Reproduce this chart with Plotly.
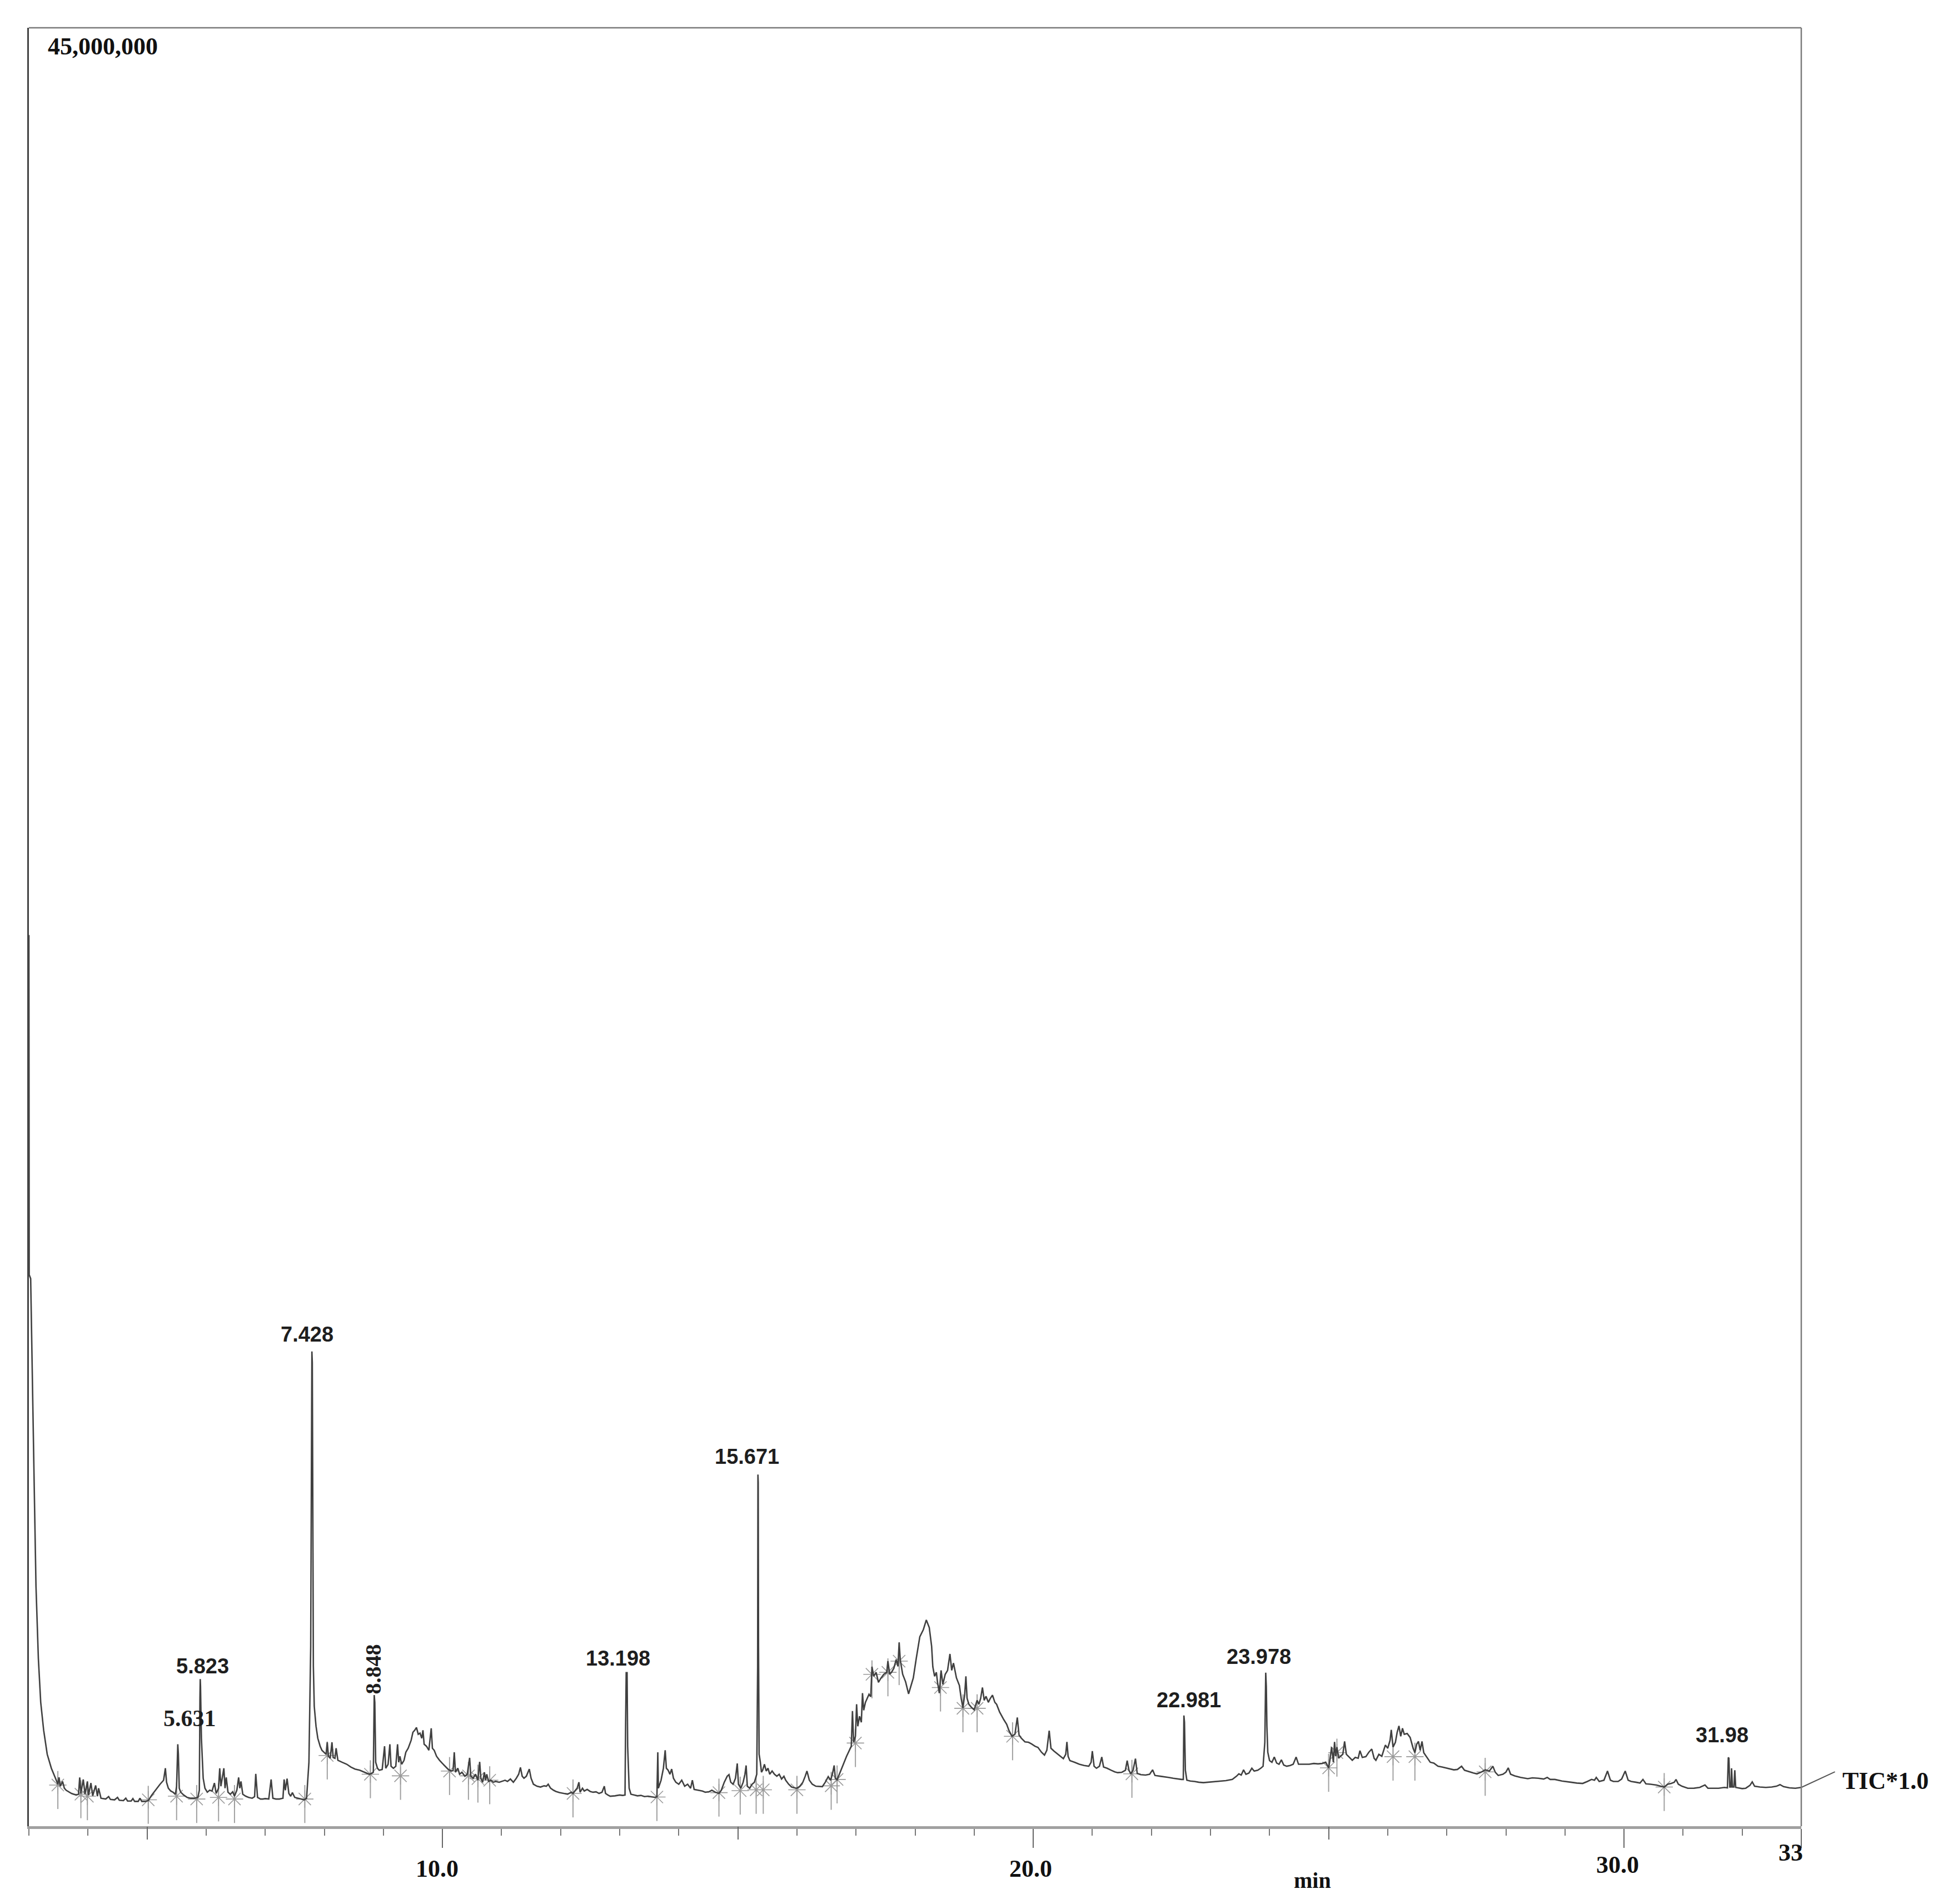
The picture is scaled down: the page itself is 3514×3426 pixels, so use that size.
import plotly.graph_objects as go

# ---------------- DATA (retention time [min], TIC intensity [millions of counts]) ----------------
solvent_front = [
    (3.00, 22.3), (3.005, 13.8), (3.03, 13.7), (3.06, 10.8), (3.09, 8.5), (3.12, 6.0), (3.16, 4.2),
    (3.20, 3.1), (3.25, 2.4), (3.31, 1.8), (3.38, 1.45), (3.45, 1.2), (3.49, 1.05), (3.51, 1.22),
    (3.53, 1.0), (3.57, 1.12), (3.60, 0.95), (3.63, 0.9), (3.68, 0.85), (3.72, 0.82), (3.76, 0.80),
    (3.80, 0.78), (3.84, 0.80), (3.86, 1.22), (3.88, 0.82), (3.92, 1.17), (3.95, 0.80), (3.99, 1.12),
    (4.01, 0.78), (4.05, 1.08), (4.08, 0.76), (4.13, 1.02), (4.16, 0.75), (4.18, 0.95), (4.22, 0.70),
    (4.30, 0.68), (4.35, 0.74), (4.38, 0.67), (4.45, 0.66), (4.50, 0.72), (4.53, 0.65), (4.60, 0.64),
    (4.64, 0.70), (4.67, 0.63), (4.73, 0.63), (4.76, 0.69), (4.79, 0.62), (4.85, 0.62), (4.88, 0.70),
    (4.91, 0.62), (4.97, 0.62), (5.02, 0.64),
]
region_5_6 = [
    (5.08, 0.78), (5.15, 0.92), (5.22, 1.05), (5.28, 1.15), (5.31, 1.45), (5.33, 1.10), (5.36, 0.95),
    (5.40, 0.88), (5.44, 0.85), (5.48, 0.80), (5.50, 1.0), (5.52, 2.05), (5.53, 1.8), (5.545, 0.95),
    (5.57, 0.85), (5.62, 0.78), (5.68, 0.72), (5.74, 0.70), (5.80, 0.70), (5.86, 0.72), (5.885, 0.9),
    (5.895, 3.2), (5.90, 3.68), (5.905, 3.5), (5.92, 2.2), (5.95, 1.2), (5.98, 0.95), (6.02, 0.85),
    (6.06, 0.9),
]
region_6_7 = [
    (6.10, 0.88), (6.14, 1.08), (6.17, 0.82), (6.21, 0.95), (6.23, 1.45), (6.25, 1.0), (6.28, 1.30),
    (6.30, 1.45), (6.32, 0.95), (6.34, 1.22), (6.37, 0.85), (6.41, 0.80), (6.45, 0.86), (6.48, 0.75),
    (6.52, 0.90), (6.55, 1.22), (6.57, 0.95), (6.59, 1.12), (6.62, 0.80), (6.67, 0.75), (6.72, 0.72),
    (6.78, 0.70), (6.82, 0.74), (6.84, 1.31), (6.87, 0.72), (6.92, 0.68), (6.96, 0.68), (7.00, 0.69),
    (7.06, 0.68), (7.10, 1.17), (7.13, 0.70), (7.18, 0.68), (7.24, 0.68), (7.30, 0.70), (7.32, 1.17),
    (7.34, 0.9), (7.37, 1.19), (7.40, 0.82), (7.43, 0.75), (7.46, 0.84), (7.50, 0.72), (7.55, 0.70),
    (7.60, 0.68), (7.66, 0.66),
]
region_7_9 = [
    (7.70, 0.70), (7.74, 1.6), (7.77, 4.5), (7.785, 10.5), (7.79, 11.88), (7.797, 11.6), (7.805, 7.0),
    (7.815, 4.0), (7.83, 3.0), (7.86, 2.5), (7.89, 2.2), (7.93, 2.0), (7.96, 1.9), (8.00, 1.85),
    (8.03, 1.80), (8.05, 2.1), (8.07, 1.75), (8.10, 1.70), (8.13, 2.1), (8.15, 1.72), (8.18, 1.70),
    (8.20, 1.95), (8.23, 1.65), (8.30, 1.60), (8.38, 1.55), (8.45, 1.48), (8.52, 1.43), (8.60, 1.40),
    (8.68, 1.35), (8.76, 1.30), (8.80, 1.32),
]
region_9_10 = [
    (8.83, 1.35), (8.845, 3.28), (8.855, 3.1), (8.87, 1.6), (8.90, 1.45), (8.93, 1.40), (8.98, 1.42),
    (9.02, 2.0), (9.04, 1.45), (9.08, 1.55), (9.11, 2.05), (9.13, 1.50), (9.17, 1.45), (9.21, 1.50),
    (9.24, 2.05), (9.26, 1.60), (9.28, 1.75), (9.31, 1.55), (9.35, 1.65), (9.38, 1.85), (9.42, 1.95),
    (9.47, 2.15), (9.50, 2.35), (9.53, 2.40), (9.56, 2.47), (9.59, 2.30), (9.62, 2.33), (9.65, 2.20),
    (9.67, 2.40), (9.69, 2.05), (9.73, 2.0), (9.77, 1.90), (9.81, 2.45), (9.83, 1.95), (9.86, 1.90),
    (9.90, 1.75), (9.95, 1.65), (10.00, 1.57), (10.05, 1.50), (10.10, 1.42),
]
region_10_13 = [
    (10.15, 1.38), (10.18, 1.40), (10.20, 1.85), (10.22, 1.35), (10.26, 1.45), (10.29, 1.30), (10.33, 1.35),
    (10.38, 1.25), (10.42, 1.30), (10.46, 1.71), (10.48, 1.25), (10.52, 1.20), (10.56, 1.30), (10.60, 1.15),
    (10.63, 1.61), (10.65, 1.20), (10.68, 1.10), (10.71, 1.35), (10.73, 1.15), (10.75, 1.30), (10.78, 1.12),
    (10.82, 1.15), (10.86, 1.10), (10.90, 1.12), (10.96, 1.10), (11.00, 1.12), (11.06, 1.15), (11.10, 1.12),
    (11.15, 1.18), (11.20, 1.10), (11.25, 1.20), (11.29, 1.30), (11.32, 1.47), (11.35, 1.25), (11.38, 1.20),
    (11.42, 1.25), (11.47, 1.43), (11.50, 1.20), (11.54, 1.05), (11.60, 1.00), (11.66, 0.98), (11.72, 1.01),
    (11.76, 1.00), (11.79, 1.05), (11.83, 0.95), (11.88, 0.90), (11.92, 0.87), (11.98, 0.84), (12.05, 0.82),
    (12.12, 0.80), (12.18, 0.85), (12.21, 0.82), (12.25, 0.90), (12.28, 0.95), (12.31, 1.10), (12.33, 0.85),
    (12.37, 0.95), (12.40, 0.88), (12.45, 0.92), (12.50, 0.87), (12.55, 0.85), (12.60, 0.86), (12.65, 0.82),
    (12.70, 0.85), (12.74, 1.00), (12.76, 0.82), (12.80, 0.78), (12.84, 0.75), (12.92, 0.76), (13.00, 0.78),
    (13.05, 0.77),
]
region_13_15 = [
    (13.09, 0.78), (13.10, 2.5), (13.11, 3.84), (13.125, 3.84), (13.135, 2.0), (13.16, 0.95), (13.19, 0.80),
    (13.25, 0.78), (13.30, 0.76), (13.36, 0.77), (13.42, 0.74), (13.48, 0.75), (13.54, 0.73), (13.60, 0.72),
    (13.63, 0.74), (13.645, 1.85), (13.655, 0.95), (13.70, 1.15), (13.74, 1.45), (13.77, 1.90), (13.79, 1.45),
    (13.82, 1.40), (13.85, 1.30), (13.88, 1.43), (13.91, 1.20), (13.95, 1.10), (14.00, 1.05), (14.05, 1.15),
    (14.10, 1.00), (14.15, 1.05), (14.20, 0.95), (14.23, 1.15), (14.26, 0.92), (14.32, 0.90), (14.40, 0.88),
    (14.45, 0.85), (14.51, 0.86), (14.56, 0.90), (14.62, 0.85), (14.68, 0.82), (14.72, 0.90), (14.77, 1.10),
    (14.82, 1.25), (14.85, 1.29), (14.88, 1.10), (14.92, 1.05), (14.96, 1.20), (14.99, 1.57), (15.01, 1.05),
    (15.05, 0.95), (15.09, 1.10), (15.12, 1.30), (15.14, 1.52), (15.16, 1.00), (15.20, 0.95), (15.24, 1.05),
    (15.28, 1.10), (15.32, 1.30),
]
region_15_17 = [
    (15.335, 4.0), (15.34, 8.8), (15.345, 8.6), (15.35, 4.5), (15.36, 1.8), (15.38, 1.61), (15.40, 1.35),
    (15.42, 1.40), (15.45, 1.55), (15.48, 1.38), (15.51, 1.45), (15.54, 1.30), (15.58, 1.38), (15.62, 1.30),
    (15.66, 1.25), (15.70, 1.30), (15.74, 1.18), (15.78, 1.25), (15.81, 1.15), (15.86, 1.05), (15.91, 0.98),
    (15.96, 0.96), (16.00, 0.95), (16.05, 1.00), (16.10, 1.10), (16.14, 1.25), (16.17, 1.38), (16.21, 1.15),
    (16.26, 1.05), (16.32, 1.00), (16.38, 0.99), (16.43, 0.99), (16.48, 1.10), (16.53, 1.24), (16.57, 1.15),
    (16.60, 1.30), (16.63, 1.52), (16.65, 1.20), (16.68, 1.16),
]
hump_17_22 = [
    (16.76, 1.45), (16.84, 1.75), (16.92, 2.0), (16.94, 2.88), (16.96, 2.10), (16.99, 2.25), (17.01, 3.05),
    (17.03, 2.50), (17.06, 2.75), (17.09, 2.60), (17.11, 3.33), (17.13, 2.90), (17.16, 3.10), (17.19, 3.20),
    (17.22, 3.30), (17.25, 3.24), (17.27, 3.99), (17.30, 3.75), (17.34, 3.85), (17.38, 3.60), (17.42, 3.70),
    (17.47, 3.80), (17.52, 3.85), (17.54, 4.13), (17.57, 3.80), (17.60, 3.85), (17.64, 3.95), (17.68, 4.17),
    (17.71, 4.00), (17.73, 4.60), (17.75, 4.15), (17.79, 3.80), (17.84, 3.61), (17.89, 3.31), (17.93, 3.50),
    (17.97, 3.71), (18.02, 4.20), (18.08, 4.74), (18.14, 4.92), (18.19, 5.16), (18.24, 4.97), (18.28, 4.50),
    (18.30, 3.99), (18.33, 3.75), (18.36, 3.85), (18.38, 3.60), (18.41, 3.33), (18.44, 3.90), (18.47, 3.55),
    (18.51, 3.80), (18.55, 3.90), (18.59, 4.31), (18.62, 3.90), (18.65, 4.08), (18.70, 3.71), (18.75, 3.52),
    (18.78, 3.20), (18.81, 2.96), (18.84, 3.30), (18.86, 3.75), (18.88, 3.20), (18.91, 3.05), (18.95, 2.98),
    (19.00, 2.91), (19.05, 3.15), (19.08, 3.05), (19.11, 3.20), (19.14, 3.47), (19.17, 3.15), (19.20, 3.25),
    (19.24, 3.10), (19.27, 3.19), (19.31, 3.28), (19.35, 3.10), (19.38, 3.05), (19.43, 2.86), (19.50, 2.67),
    (19.55, 2.55), (19.59, 2.39), (19.64, 2.25), (19.69, 2.30), (19.73, 2.72), (19.76, 2.28), (19.80, 2.20),
    (19.86, 2.11), (19.92, 2.10), (19.97, 2.06), (20.03, 2.00), (20.08, 1.97), (20.14, 1.85), (20.19, 1.78),
    (20.23, 1.90), (20.27, 2.39), (20.30, 1.95), (20.35, 1.88), (20.42, 1.80), (20.51, 1.69), (20.55, 1.80),
    (20.57, 2.11), (20.59, 1.75), (20.62, 1.64), (20.70, 1.60), (20.78, 1.55), (20.86, 1.52), (20.94, 1.50),
    (20.98, 1.60), (21.00, 1.88), (21.03, 1.50), (21.07, 1.45), (21.12, 1.50), (21.16, 1.73), (21.19, 1.48),
    (21.25, 1.45), (21.32, 1.40), (21.38, 1.36), (21.43, 1.34), (21.50, 1.35), (21.56, 1.40), (21.59, 1.64),
    (21.62, 1.40), (21.65, 1.31), (21.69, 1.40), (21.73, 1.69), (21.76, 1.32), (21.82, 1.29), (21.90, 1.28),
    (21.97, 1.30), (22.02, 1.41), (22.06, 1.27), (22.15, 1.25), (22.22, 1.23), (22.29, 1.22), (22.37, 1.20),
    (22.45, 1.18), (22.51, 1.17),
]
region_22_25 = [
    (22.54, 1.17), (22.55, 2.77), (22.56, 2.6), (22.575, 1.4), (22.60, 1.15), (22.66, 1.13), (22.73, 1.12),
    (22.80, 1.10), (22.88, 1.09), (22.96, 1.10), (23.05, 1.11), (23.16, 1.13), (23.26, 1.14), (23.37, 1.17),
    (23.44, 1.25), (23.48, 1.31), (23.52, 1.28), (23.56, 1.41), (23.60, 1.30), (23.65, 1.33), (23.70, 1.45),
    (23.74, 1.38), (23.80, 1.40), (23.85, 1.45), (23.89, 1.50), (23.92, 2.1), (23.935, 3.84), (23.945, 3.5),
    (23.955, 2.5), (23.97, 1.85), (24.00, 1.64), (24.04, 1.60), (24.08, 1.73), (24.12, 1.58), (24.16, 1.55),
    (24.20, 1.66), (24.24, 1.53), (24.29, 1.50), (24.35, 1.52), (24.40, 1.55), (24.45, 1.73), (24.49, 1.55),
    (24.55, 1.55), (24.62, 1.56), (24.67, 1.55), (24.75, 1.57), (24.82, 1.56), (24.89, 1.57), (24.95, 1.60),
    (25.00, 1.46), (25.02, 1.64),
]
region_25_33 = [
    (25.05, 1.98), (25.08, 1.60), (25.10, 2.11), (25.12, 1.75), (25.14, 1.98), (25.17, 1.70), (25.20, 1.75),
    (25.24, 1.80), (25.27, 2.12), (25.30, 1.80), (25.34, 1.74), (25.40, 1.65), (25.45, 1.72), (25.50, 1.70),
    (25.53, 1.89), (25.57, 1.72), (25.63, 1.74), (25.68, 1.85), (25.73, 1.93), (25.77, 1.70), (25.80, 1.65),
    (25.85, 1.80), (25.90, 1.75), (25.96, 2.03), (26.00, 1.95), (26.04, 2.15), (26.06, 2.41), (26.09, 1.98),
    (26.13, 2.10), (26.16, 2.35), (26.19, 2.51), (26.22, 2.25), (26.25, 2.45), (26.28, 2.30), (26.33, 2.32),
    (26.38, 2.22), (26.43, 1.95), (26.46, 1.84), (26.49, 2.05), (26.52, 2.12), (26.55, 1.90), (26.58, 2.12),
    (26.61, 1.84), (26.67, 1.70), (26.72, 1.60), (26.78, 1.58), (26.85, 1.50), (26.92, 1.48), (26.98, 1.46),
    (27.05, 1.44), (27.12, 1.41), (27.18, 1.42), (27.25, 1.50), (27.30, 1.40), (27.38, 1.36), (27.45, 1.33),
    (27.51, 1.31), (27.58, 1.35), (27.65, 1.41), (27.72, 1.38), (27.78, 1.50), (27.82, 1.35), (27.87, 1.27),
    (27.95, 1.30), (28.00, 1.35), (28.04, 1.46), (28.08, 1.30), (28.15, 1.26), (28.25, 1.22), (28.37, 1.19),
    (28.45, 1.21), (28.55, 1.20), (28.64, 1.18), (28.70, 1.22), (28.75, 1.17), (28.83, 1.17), (28.95, 1.13),
    (29.02, 1.12), (29.10, 1.10), (29.20, 1.08), (29.30, 1.07), (29.38, 1.12), (29.45, 1.17), (29.50, 1.15),
    (29.53, 1.22), (29.58, 1.12), (29.66, 1.15), (29.72, 1.38), (29.77, 1.15), (29.82, 1.12), (29.90, 1.12),
    (29.96, 1.18), (30.02, 1.38), (30.07, 1.15), (30.12, 1.12), (30.20, 1.10), (30.27, 1.08), (30.32, 1.17),
    (30.37, 1.06), (30.45, 1.05), (30.55, 1.03), (30.62, 1.00), (30.68, 0.98), (30.74, 1.05), (30.80, 1.07),
    (30.85, 1.10), (30.88, 1.17), (30.92, 1.05), (30.98, 1.00), (31.08, 0.95), (31.18, 0.95), (31.28, 0.97),
    (31.37, 1.03), (31.42, 0.95), (31.50, 0.95), (31.60, 0.95), (31.70, 0.97), (31.75, 0.96), (31.765, 1.72),
    (31.775, 1.70), (31.79, 0.98), (31.81, 0.98), (31.82, 1.45), (31.835, 0.98), (31.86, 0.98), (31.875, 1.40),
    (31.89, 0.97), (31.95, 0.95), (32.00, 0.94), (32.06, 0.95), (32.13, 1.02), (32.17, 1.11), (32.21, 1.00),
    (32.30, 0.98), (32.40, 0.97), (32.50, 0.98), (32.58, 1.00), (32.64, 1.04), (32.70, 0.99), (32.80, 0.96),
    (32.90, 0.95), (33.00, 0.97),
]

# integration (peak start/end) markers: retention time, level [M counts]
integration_rt = [3.49, 3.88, 3.99, 5.02, 5.50, 5.84, 6.21, 6.48, 7.67, 8.05, 8.78, 9.29,
                  10.12, 10.44, 10.60, 10.80, 12.21, 13.63, 14.68, 15.04, 15.31, 15.43, 16.00, 16.58,
                  16.68, 16.99, 17.27, 17.54, 17.73, 18.43, 18.81, 19.05, 19.65, 21.67,
                  25.00, 25.14, 26.09, 26.46, 27.65, 30.68]
integration_level = [1.03, 0.80, 0.75, 0.66, 0.75, 0.68, 0.72, 0.68, 0.68, 1.77, 1.30, 1.26,
                     1.38, 1.26, 1.19, 1.15, 0.82, 0.73, 0.84, 0.89, 0.91, 0.91, 0.91, 1.01,
                     1.17, 2.08, 3.80, 3.85, 4.13, 3.47, 2.95, 2.95, 2.25, 1.31,
                     1.46, 1.84, 1.74, 1.74, 1.36, 0.98]

# labelled peaks: label, apex retention time, apex height [M counts]
peak_labels = ["5.631", "5.823", "7.428", "8.848", "13.198", "15.671", "22.981", "23.978", "31.98"]
peak_rt = [5.52, 5.90, 7.79, 8.845, 13.11, 15.34, 22.55, 23.935, 31.765]
peak_height = [2.05, 3.68, 11.88, 3.28, 3.84, 8.8, 2.77, 3.84, 1.72]

x_tick_values = [10, 20, 30]
x_tick_text = ["10.0", "20.0", "30.0"]
y_max_label = "45,000,000"
trace_name = "TIC*1.0"

# ---------------- BUILD ----------------
segments = [solvent_front, region_5_6, region_6_7, region_7_9, region_9_10, region_10_13,
            region_13_15, region_15_17, hump_17_22, region_22_25, region_25_33]
rt = [p[0] for s in segments for p in s]
tic = [p[1] * 1e6 for s in segments for p in s]

fig = go.Figure()

# integration marker stems
stem_x, stem_y = [], []
for t, lv in zip(integration_rt, integration_level):
    stem_x += [t, t, None]
    stem_y += [(lv - 0.6) * 1e6, (lv + 0.35) * 1e6, None]
fig.add_trace(go.Scatter(x=stem_x, y=stem_y, mode="lines",
                         line=dict(color="#a0a0a0", width=2), hoverinfo="skip", showlegend=False))
fig.add_trace(go.Scatter(x=integration_rt, y=[v * 1e6 for v in integration_level], mode="markers",
                         marker=dict(symbol="asterisk-open", size=26, color="#9a9a9a",
                                     line=dict(color="#9a9a9a", width=1.6)),
                         hoverinfo="skip", showlegend=False))

fig.add_trace(go.Scatter(x=rt, y=tic, mode="lines", name=trace_name,
                         line=dict(color="#404040", width=2.6), showlegend=False))

# dummy trace for the 5-minute tick axis
fig.add_trace(go.Scatter(x=[3, 33], y=[None, None], xaxis="x2", mode="lines",
                         hoverinfo="skip", showlegend=False))

sans = "Liberation Sans"
serif = "Liberation Serif"
label_offsets = {  # (xshift, yshift, textangle, family, size)
    "5.631": (22, 22, 0, serif, 42), "5.823": (4, 0, 0, sans, 38), "7.428": (-9, 8, 0, sans, 38),
    "8.848": (-2, 0, -90, serif, 40), "13.198": (-15, 3, 0, sans, 38), "15.671": (-20, 9, 0, sans, 38),
    "22.981": (9, 5, 0, sans, 38), "23.978": (-12, 6, 0, sans, 38), "31.98": (-11, 17, 0, sans, 38),
}
for lab, t, h in zip(peak_labels, peak_rt, peak_height):
    xs, ys, ang, fam, sz = label_offsets[lab]
    fig.add_annotation(x=t, y=h * 1e6, text=lab, showarrow=False, xanchor="center", yanchor="bottom",
                       xshift=xs, yshift=ys, textangle=ang,
                       font=dict(family=fam, size=sz, color="#1e1e1e", weight="bold"))

tick_label_shift = {10: (-10, -0.0235), 20: (-5, -0.0235), 30: (-12, -0.0215)}
for v, tx in zip(x_tick_values, x_tick_text):
    xs, yp = tick_label_shift[v]
    fig.add_annotation(x=v, y=yp, yref="paper", text=tx, showarrow=False, xshift=xs,
                       xanchor="center", yanchor="middle",
                       font=dict(family=serif, size=44, color="#111", weight="bold"))
fig.add_annotation(x=33, y=-0.0148, yref="paper", text="33", showarrow=False, xshift=-19,
                   xanchor="center", yanchor="middle", font=dict(family=serif, size=44, color="#111", weight="bold"))
fig.add_annotation(x=24.73, y=-0.030, yref="paper", text="min", showarrow=False,
                   xanchor="center", yanchor="middle", font=dict(family=serif, size=40, color="#111", weight="bold"))
fig.add_annotation(x=0.01, xref="paper", y=0.9895, yref="paper", text=y_max_label, showarrow=False,
                   xanchor="left", yanchor="middle", font=dict(family=serif, size=44, color="#111", weight="bold"))
fig.add_annotation(x=1.0225, xref="paper", y=1.13e6, text=trace_name, showarrow=False,
                   xanchor="left", yanchor="middle", font=dict(family=serif, size=44, color="#111", weight="bold"))

fig.add_shape(type="line", xref="paper", yref="y", x0=1.0, y0=tic[-1], x1=1.019, y1=1.36e6,
              line=dict(color="#555", width=2))
fig.add_shape(type="line", xref="paper", yref="paper", x0=0, y0=1, x1=1, y1=1,
              line=dict(color="#7a7a7a", width=2.5))
fig.add_shape(type="line", xref="paper", yref="paper", x0=1, y0=0, x1=1, y1=1,
              line=dict(color="#7a7a7a", width=2.5))

fig.update_layout(
    width=3514, height=3426,
    margin=dict(l=44, r=281, t=42, b=148),
    paper_bgcolor="white", plot_bgcolor="white",
    xaxis=dict(range=[3, 33], showgrid=False, zeroline=False, showline=True,
               linecolor="#a0a0a0", linewidth=5, ticks="outside", tickvals=[10, 20, 30, 33],
               ticklen=34, tickwidth=2, tickcolor="#666", showticklabels=False,
               minor=dict(dtick=1, tick0=0, ticks="outside", ticklen=12, tickwidth=1.5, tickcolor="#777")),
    xaxis2=dict(range=[3, 33], overlaying="x", anchor="y", side="bottom", showgrid=False, zeroline=False,
                showline=False, ticks="outside", tickvals=[5, 15, 25], ticklen=23, tickwidth=2,
                tickcolor="#666", showticklabels=False),
    yaxis=dict(range=[0, 45e6], showgrid=False, zeroline=False, showline=True, linecolor="#444",
               linewidth=3, ticks="", showticklabels=False),
)

fig.write_html("out.html")
